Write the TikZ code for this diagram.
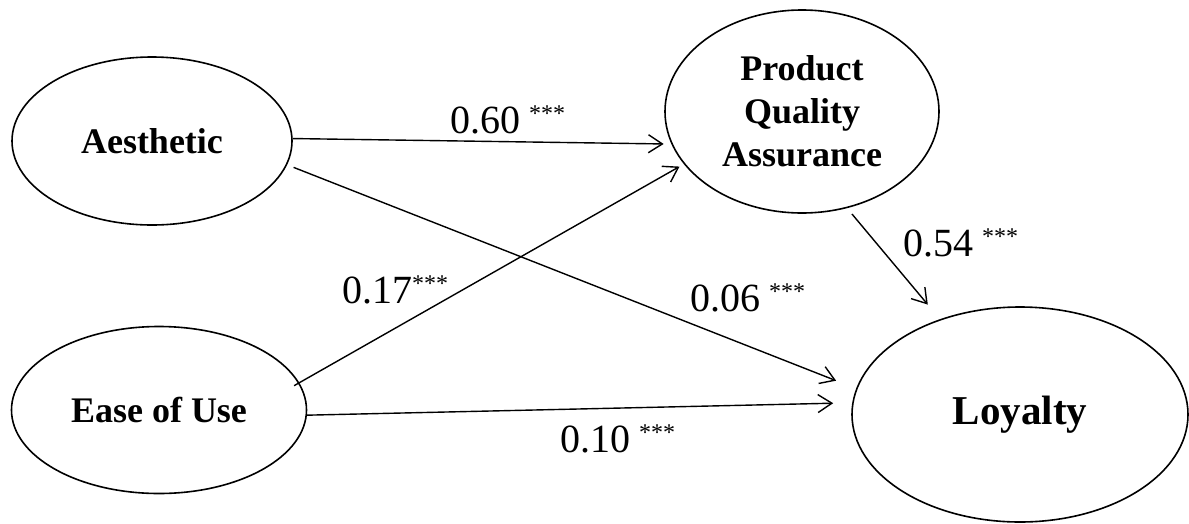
\documentclass[tikz,border=0pt]{standalone}
\usepackage{fontspec}
\setmainfont{Liberation Serif}
\usetikzlibrary{arrows.meta,shapes.geometric}

\newcommand{\stars}{\raisebox{12pt}{\fontsize{24}{24}\selectfont ***}}

\begin{document}
\begin{tikzpicture}[
      x=1pt, y=-1pt,
      latent/.style={ellipse, draw, line width=1.6pt, inner sep=0pt, align=center, font=\fontsize{36}{43}\selectfont\bfseries},
      path/.style={-{Straight Barb[length=14pt,width=18pt]}, line width=1.4pt},
      coef/.style={anchor=base west, inner sep=0pt, font=\fontsize{40}{40}\selectfont},
    ]
    \useasboundingbox (0,0) rectangle (1189,523);
    % constructs
    \node[latent, minimum width=280pt, minimum height=168pt] (aes) at (152,141) {Aesthetic};
    \node[latent, minimum width=295pt, minimum height=167pt] (ease) at (159,410) {Ease of Use};
    \node[latent, minimum width=274pt, minimum height=203pt] (pqa) at (802,111.5) {Product\\Quality\\Assurance};
    \node[latent, minimum width=336pt, minimum height=215pt, font=\fontsize{41}{41}\selectfont\bfseries] (loy) at (1020,414.5) {Loyalty};
    % paths
    \draw[path, shorten >=7.7pt] (aes.1.7) -- (pqa.194.5);
    \draw[path, shorten <=7pt, shorten >=21.5pt] (aes.-10) -- (loy.171.8);
    \draw[path, shorten <=-6pt, shorten >=5pt] (ease.11.3) -- (pqa.204.7);
    \draw[path, shorten >=19pt] (ease.-2.2) -- (loy.176.7);
    \draw[path, shorten <=7.6pt, shorten >=19pt] (pqa.-65) -- (loy.130);
    % coefficients
    \node[coef] (c1) at (450,133) {0.60\hspace{9pt}\stars};
    \node[coef] (c2) at (342,303) {0.17\stars};
    \node[coef] (c3) at (690,311) {0.06\hspace{9pt}\stars};
    \node[coef] (c4) at (903,256) {0.54\hspace{9pt}\stars};
    \node[coef] (c5) at (560,452) {0.10\hspace{9pt}\stars};
  \end{tikzpicture}
\end{document}
